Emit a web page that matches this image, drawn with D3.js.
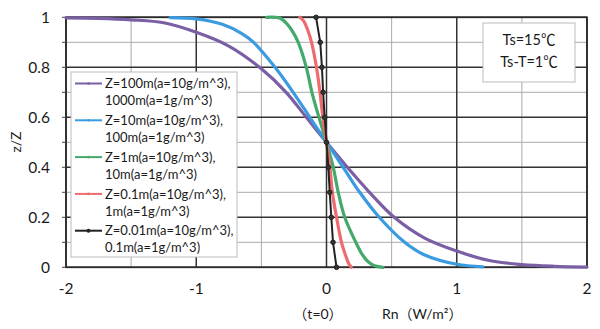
<!DOCTYPE html>
<html><head><meta charset="utf-8">
<script src="https://cdn.jsdelivr.net/npm/d3@7"></script>
<style>
body{margin:0;background:#fff;}
svg{display:block;font-family:Lato,"Noto Sans CJK JP",sans-serif;}
</style></head>
<body><svg id="c" width="600" height="329"></svg>
<script>
// ---- data ----
const xTickLabels = ["-2","-1","0","1","2"];
const xTickValues = [-2,-1,0,1,2];
const yTickValues = [0,0.2,0.4,0.6,0.8,1];
const yTickLabels = ["0","0.2","0.4","0.6","0.8","1"];
const xMinor = [-1.5,-0.5,0.5,1.5];
const yMinor = [0.1,0.3,0.5,0.7,0.9];

const seriesNames = [
  ["Z=100m(a=10g/m^3),","1000m(a=1g/m^3)"],
  ["Z=10m(a=10g/m^3),","100m(a=1g/m^3)"],
  ["Z=1m(a=10g/m^3),","10m(a=1g/m^3)"],
  ["Z=0.1m(a=10g/m^3),","1m(a=1g/m^3)"],
  ["Z=0.01m(a=10g/m^3),","0.1m(a=1g/m^3)"]
];
const seriesColors = ["#7b5fa5","#3a9be0","#45a96c","#ee6b6f","#222222"];

const purpleX = [-2.0,-1.75,-1.5,-1.25,-1.0,-0.75,-0.5,-0.31,-0.155,0,0.16,0.33,0.52,0.75,1.0,1.25,1.5,1.75,2.0];
const purpleY = [0.998,0.996,0.99,0.978,0.94,0.885,0.794,0.7,0.6,0.5,0.4,0.3,0.2,0.118,0.065,0.027,0.011,0.004,0.001];

const blueX = [-1.2,-1.0,-0.8,-0.65,-0.56,-0.395,-0.256,-0.128,0,0.128,0.255,0.405,0.6,0.75,1.0,1.2];
const blueY = [0.999,0.994,0.972,0.935,0.9,0.8,0.7,0.6,0.5,0.4,0.3,0.2,0.1,0.05,0.012,0.002];

const greenX = [-0.46,-0.36,-0.305,-0.256,-0.217,-0.155,-0.112,-0.058,0,0.052,0.09,0.14,0.225,0.27,0.32,0.37,0.434];
const greenY = [1.0,0.997,0.975,0.94,0.9,0.8,0.7,0.6,0.5,0.4,0.3,0.2,0.1,0.055,0.022,0.006,0.0];

const redX = [-0.205,-0.175,-0.145,-0.115,-0.077,-0.05,-0.028,0,0.026,0.045,0.077,0.115,0.145,0.17,0.19];
const redY = [1.0,0.985,0.95,0.9,0.8,0.7,0.6,0.5,0.4,0.3,0.2,0.1,0.05,0.015,0.0];

const blackX = [-0.08,-0.048,-0.035,-0.026,-0.014,0,0.014,0.025,0.037,0.05,0.077];
const blackY = [1,0.9,0.8,0.7,0.6,0.5,0.4,0.3,0.2,0.1,0];

const seriesX = [purpleX, blueX, greenX, redX, blackX];
const seriesY = [purpleY, blueY, greenY, redY, blackY];

const noteLines = ["Ts=15\u2103","Ts-T=1\u2103"];
const xLabelParts = ["\uff08t=0\uff09","Rn\uff08W/m\u00b2\uff09"];
const yLabel = "z/Z";

// ---- drawing ----
const svg = d3.select("#c");
const x = d3.scaleLinear().domain([-2,2]).range([66,587]);
const y = d3.scaleLinear().domain([0,1]).range([267.3,17.3]);

const g = svg.append("g");
// minor grid
g.selectAll(".vmin").data(xMinor).join("line")
  .attr("x1",d=>x(d)).attr("x2",d=>x(d)).attr("y1",y(0)).attr("y2",y(1))
  .attr("stroke","#aaa").attr("stroke-width",1);
g.selectAll(".hmin").data(yMinor).join("line")
  .attr("x1",x(-2)).attr("x2",x(2)).attr("y1",d=>y(d)).attr("y2",d=>y(d))
  .attr("stroke","#aaa").attr("stroke-width",1);
// major grid
g.selectAll(".vmaj").data(xTickValues).join("line")
  .attr("x1",d=>x(d)).attr("x2",d=>x(d)).attr("y1",y(0)).attr("y2",y(1))
  .attr("stroke","#333").attr("stroke-width",1.5);
g.selectAll(".hmaj").data(yTickValues).join("line")
  .attr("x1",x(-2)).attr("x2",x(2)).attr("y1",d=>y(d)).attr("y2",d=>y(d))
  .attr("stroke","#333").attr("stroke-width",1.5);
// frame
g.append("rect").attr("x",x(-2)).attr("y",y(1)).attr("width",x(2)-x(-2)).attr("height",y(0)-y(1))
  .attr("fill","none").attr("stroke","#2a2a2a").attr("stroke-width",1.7);
// small outward ticks
g.selectAll(".yt").data(yTickValues.concat(yMinor)).join("line")
  .attr("x1",x(-2)-4).attr("x2",x(-2)).attr("y1",d=>y(d)).attr("y2",d=>y(d))
  .attr("stroke","#444");

// tick labels
g.selectAll(".ytl").data(yTickValues).join("text")
  .attr("x",50).attr("y",d=>y(d)).attr("dy","0.36em").attr("text-anchor","end")
  .attr("font-size",15.5).attr("fill","#1a1a1a").text((d,i)=>yTickLabels[i]);
g.selectAll(".xtl").data(xTickValues).join("text")
  .attr("x",d=>x(d)).attr("y",294).attr("text-anchor","middle")
  .attr("font-size",15.5).attr("fill","#1a1a1a").text((d,i)=>xTickLabels[i]);

svg.append("text").attr("x",318).attr("y",319).attr("text-anchor","middle")
  .attr("font-size",14).attr("fill","#1a1a1a").text(xLabelParts[0]);
svg.append("text").attr("x",382).attr("y",319).attr("text-anchor","start")
  .attr("font-size",14).attr("fill","#1a1a1a").text(xLabelParts[1]);
svg.append("text").attr("transform","translate(21,142) rotate(-90)").attr("text-anchor","middle")
  .attr("font-size",14).attr("fill","#1a1a1a").text(yLabel);

// series
const line = d3.line().x(d=>x(d[0])).y(d=>y(d[1])).curve(d3.curveCatmullRom.alpha(0.5));
const lineLin = d3.line().x(d=>x(d[0])).y(d=>y(d[1]));
seriesX.forEach((xs,i)=>{
  const pts = xs.map((v,j)=>[v, seriesY[i][j]]);
  const isBlack = i===4;
  g.append("path").attr("d",(isBlack?lineLin:line)(pts)).attr("fill","none")
    .attr("stroke",seriesColors[i]).attr("stroke-width",isBlack?2:3.2)
    .attr("stroke-linejoin","round").attr("stroke-linecap","round");
  if(isBlack){
    g.selectAll(".bm").data(pts).join("circle")
      .attr("cx",d=>x(d[0])).attr("cy",d=>y(d[1])).attr("r",2.3)
      .attr("fill","#333").attr("stroke","#222");
  }
});

// legend
const lg = svg.append("g");
lg.append("rect").attr("x",71).attr("y",72).attr("width",166).attr("height",185)
  .attr("fill","#fff").attr("stroke","#bbb").attr("stroke-width",1);
seriesNames.forEach((nm,i)=>{
  const cy = 83.5 + i*36.8;
  lg.append("line").attr("x1",75).attr("x2",102).attr("y1",cy).attr("y2",cy)
    .attr("stroke",seriesColors[i]).attr("stroke-width",2);
  lg.append("circle").attr("cx",88.5).attr("cy",cy).attr("r",i===4?2:1.3)
    .attr("fill",seriesColors[i]);
  nm.forEach((t,k)=>{
    lg.append("text").attr("x",105).attr("y",cy+k*17).attr("dy","0.36em")
      .attr("font-size",13).attr("fill","#1a1a1a").text(t);
  });
});

// note box
const nb = svg.append("g");
nb.append("rect").attr("x",483).attr("y",23).attr("width",92).attr("height",59)
  .attr("fill","#fff").attr("stroke","#bbb");
noteLines.forEach((t,i)=>{
  nb.append("text").attr("x",529).attr("y",40+i*22).attr("dy","0.36em").attr("text-anchor","middle")
    .attr("font-size",14.5).attr("fill","#1a1a1a").text(t);
});
</script></body></html>
